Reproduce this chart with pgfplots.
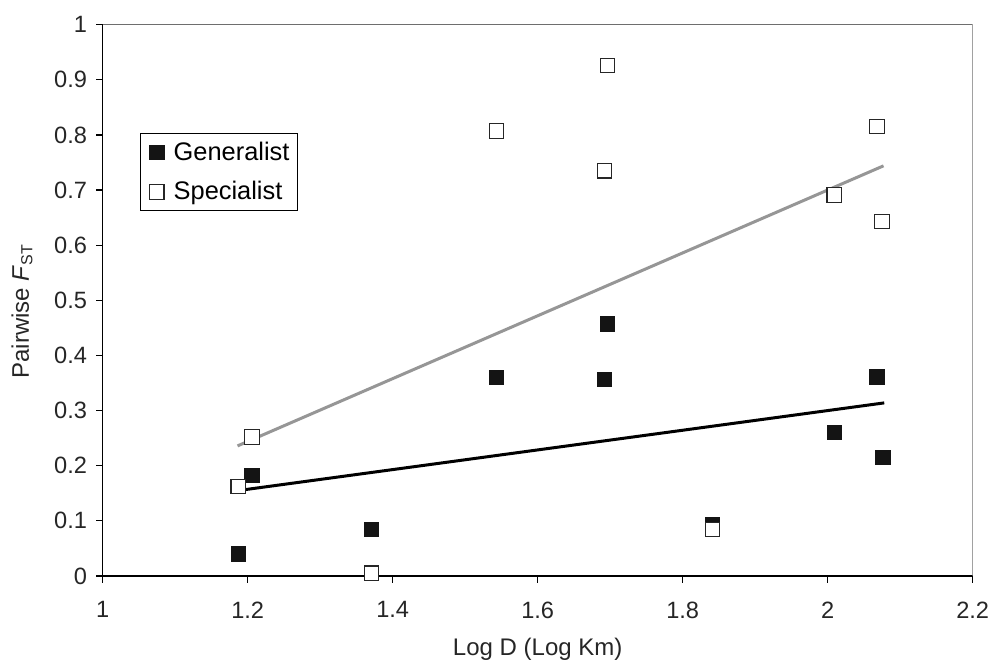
\documentclass[border=0pt]{standalone}
\usepackage{fontspec}
\setmainfont{Liberation Sans}
\usepackage{pgfplots}
\pgfplotsset{compat=1.18}

\definecolor{trendgray}{RGB}{150,150,150}
\definecolor{framegray}{RGB}{110,110,110}

\pgfplotsset{
    sqlegend/.style={legend image code/.code={%
        \path[draw=none, fill=none] (0pt,-1pt) rectangle (12.4pt,1pt);
        \draw[#1, draw=none] plot coordinates {(6pt,0pt)};}},
}

\begin{document}
\begin{tikzpicture}
\begin{axis}[
    scale only axis,
    width=435pt, height=275.65pt,
    xmin=1, xmax=2.2, ymin=0, ymax=1,
    xtick={1,1.2,1.4,1.6,1.8,2,2.2},
    ytick={0,0.1,0.2,0.3,0.4,0.5,0.6,0.7,0.8,0.9,1},
    axis x line*=bottom, axis y line*=left,
    axis line style={-, line width=0.8pt, black},
    tick align=outside, major tick length=3.3pt,
    tick style={black, line width=0.6pt},
    /pgf/number format/assume math mode=true,
    tick label style={font=\fontsize{11.8}{13}\selectfont, text=black!85},
    xticklabel style={yshift=-6pt},
    yticklabel style={xshift=-1pt},
    xlabel={Log D (Log Km)},
    ylabel={Pairwise \textit{F}\textsubscript{ST}},
    label style={font=\fontsize{12}{13}\selectfont, text=black!85},
    xlabel style={at={(axis description cs:0.5,-0.1433)}, anchor=base},
    ylabel style={at={(axis description cs:-0.0928,0.48)}, anchor=center},
    legend style={at={(axis cs:1.052,0.803)}, anchor=north west,
        draw=black, line width=0.5pt, inner sep=2pt,
        font=\fontsize{12.7}{14}\selectfont, row sep=5pt},
    legend cell align=left,
]

% Generalist
\addplot[only marks, sqlegend, mark=square*, mark size=3.6pt,
    mark options={fill=black!92, draw=black!92, line width=0.4pt}] coordinates {
    (1.187,0.040) (1.206,0.183) (1.371,0.085) (1.543,0.360)
    (1.692,0.357) (1.696,0.457) (1.841,0.093) (2.009,0.261)
    (2.068,0.361) (2.076,0.215)
};
\addlegendentry{Generalist}

% Specialist
\addplot[only marks, sqlegend, mark=square*, mark size=3.6pt,
    mark options={fill=white, draw=black!85, line width=0.6pt}] coordinates {
    (1.187,0.162) (1.206,0.252) (1.371,0.005) (1.543,0.807)
    (1.692,0.735) (1.696,0.926) (1.841,0.084) (2.009,0.691)
    (2.068,0.815) (2.075,0.643)
};
\addlegendentry{Specialist}

% trend lines
\addplot[forget plot, black, line width=1.5pt] coordinates {(1.187,0.155) (2.078,0.314)};
\addplot[forget plot, trendgray, line width=1.5pt] coordinates {(1.186,0.236) (2.077,0.744)};

\draw[framegray, line width=0.8pt] (rel axis cs:0,1) -- (rel axis cs:1,1) -- (rel axis cs:1,0);
\end{axis}
\pgfresetboundingbox
\path[use as bounding box] (-51.35pt,-41.5pt) rectangle (444.15pt,288pt);
\end{tikzpicture}
\end{document}
